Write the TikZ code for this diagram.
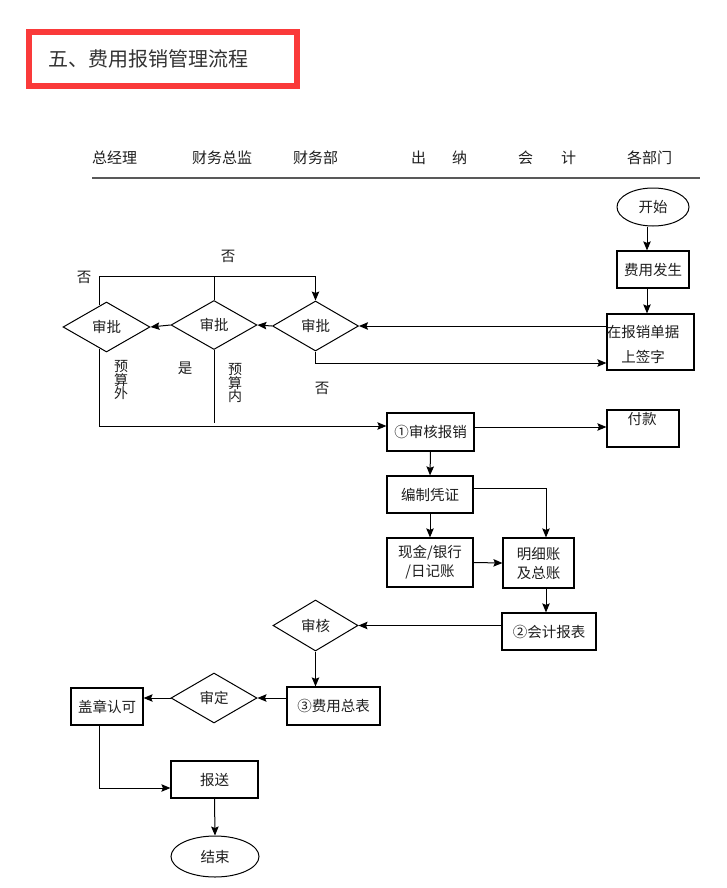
\documentclass[tikz,border=0pt]{standalone}
\usepackage{fontspec}
\setmainfont{Noto Sans CJK SC}
\usetikzlibrary{shapes.geometric,arrows.meta,calc}
\definecolor{redbox}{RGB}{250,58,58}
\definecolor{txt}{RGB}{30,30,30}
\begin{document}
\begin{tikzpicture}[x=1pt,y=-1pt,
  every node/.style={inner sep=0pt,text=txt},
  box/.style={draw,line width=1.2pt,rectangle,font=\fontsize{14.5}{17}\selectfont},
  dia/.style={draw,line width=1pt,diamond,font=\fontsize{14.5}{17}\selectfont},
  oval/.style={draw,line width=1pt,ellipse,font=\fontsize{14.5}{17}\selectfont},
  lbl/.style={font=\fontsize{14.5}{17}\selectfont},
  hdr/.style={font=\fontsize{15}{18}\selectfont,anchor=west},
  conn/.style={line width=1pt},
  arr/.style={line width=1pt,-{Stealth[length=9pt,width=7.5pt,inset=1.5pt]}}]
\useasboundingbox[fill=white] (0,0) rectangle (726,888);
% title
\node[draw=redbox,line width=5.5pt,minimum width=268pt,minimum height=54pt] (tbox) at (163,59) {};
\node[anchor=west,font=\fontsize{20}{24}\selectfont,text=black!80] (title) at (48,59) {五、费用报销管理流程};
% header
\node[hdr] (h1) at (92,158) {总经理};
\node[hdr] (h2) at (192,158) {财务总监};
\node[hdr] (h3) at (293,158) {财务部};
\node[hdr] (h4) at (411,158) {出};
\node[hdr] (h5) at (452,158) {纳};
\node[hdr] (h6) at (518,158) {会};
\node[hdr] (h7) at (561,158) {计};
\node[hdr] (h8) at (627,158) {各部门};
\coordinate (hl1) at (92,178);
\coordinate (hl2) at (700,178);
\draw[line width=2pt,black!65] (hl1) -- (hl2);
% nodes
\node[oval,minimum width=72pt,minimum height=38pt] (start) at (653,207) {开始};
\node[box,minimum width=72pt,minimum height=37pt] (fy) at (653,269.5) {费用发生};
\node[box,minimum width=87pt,minimum height=56pt] (qz) at (650.5,342) {};
\node[lbl,align=center,font=\fontsize{14.5}{25}\selectfont] (qzt) at (643,344.5) {在报销单据\\上签字};
\node[dia,minimum width=86pt,minimum height=50pt] (d3) at (315.5,326) {审批};
\node[dia,minimum width=86pt,minimum height=49pt] (d2) at (214,325) {审批};
\node[dia,minimum width=87pt,minimum height=50pt] (d1) at (106.5,327) {审批};
\node[box,minimum width=87pt,minimum height=38pt] (sh) at (430.5,432) {①审核报销};
\node[box,minimum width=72pt,minimum height=37pt] (fk) at (643,428.5) {};
\node[lbl] (fkt) at (642,419) {付款};
\node[box,minimum width=86pt,minimum height=37pt] (bz) at (430,494.5) {编制凭证};
\node[box,minimum width=86pt,minimum height=49pt,align=center,font=\fontsize{14.5}{19}\selectfont] (xj) at (430,562.5) {现金/银行\\/日记账};
\node[box,minimum width=71pt,minimum height=50pt,align=center,font=\fontsize{14.5}{19}\selectfont] (mx) at (538.5,563) {明细账\\及总账};
\node[box,minimum width=94pt,minimum height=37pt] (kj) at (549,631.5) {②会计报表};
\node[dia,minimum width=85pt,minimum height=51pt] (sh2) at (315.5,625.5) {审核};
\node[box,minimum width=93pt,minimum height=38pt] (zb) at (333.5,706) {③费用总表};
\node[dia,minimum width=86pt,minimum height=50pt] (sd) at (214,698) {审定};
\node[box,minimum width=72pt,minimum height=37pt] (gz) at (107,706.5) {盖章认可};
\node[box,minimum width=87pt,minimum height=37pt] (bs) at (214.5,779.5) {报送};
\node[oval,minimum width=88pt,minimum height=41pt] (end) at (215,856.5) {结束};
% labels
\node[lbl] (no1) at (228,256) {否};
\node[lbl] (no2) at (84,277) {否};
\node[lbl] (no3) at (322,388) {否};
\node[lbl] (yes) at (185,368) {是};
\node[lbl,align=center,font=\fontsize{14}{12}\selectfont] (ysw) at (121,380) {预\\算\\外};
\node[lbl,align=center,font=\fontsize{14}{13.5}\selectfont] (ysn) at (235,383) {预\\算\\内};
% helper coordinates
\coordinate (topy) at (0,276);
\coordinate (c1t) at (99,305);
\coordinate (c1b) at (99,349);
\coordinate (c2e) at (214,423);
\coordinate (a0) at ($(start.south)+(-6,0)$);
\coordinate (a1) at ($(fy.south)+(-6,0)$);
\coordinate (a2) at ($(sh.east)+(0,-5)$);
\coordinate (a3) at ($(mx.south)+(7.5,0)$);
\coordinate (a4) at ($(mx.north)+(7.5,0)$);
\coordinate (a5) at ($(bz.east)+(0,-6.5)$);
\coordinate (shin) at ($(sh.west)+(0,-6)$);
\coordinate (qzin) at ($(qz.west)+(0,21)$);
\coordinate (gzo) at ($(gz.south)+(-8,0)$);
\coordinate (bsin) at ($(bs.west)+(0,8.5)$);
% connectors
\draw[arr] (a0) -- (a0 |- fy.north);
\draw[arr] (a1) -- (a1 |- qz.north);
\draw[arr] (d3.east -| qz.west) -- (d3.east);
\draw[arr] (d3.south) |- (qzin);
\draw[arr] (d3.west) -- (d2.east);
\draw[arr] (d2.west) -- (d1.east);
\draw[arr] (c1t) |- (d3.north |- topy) -- (d3.north);
\draw[conn] (d2.north) -- (d2.north |- topy);
\draw[arr] (c1b) |- (shin);
\draw[conn] (d2.south) -- (c2e);
\draw[arr] (a2) -- (a2 -| fk.west);
\draw[arr] (sh.south) -- (bz.north);
\draw[arr] (a5) -| (a4);
\draw[arr] (bz.south) -- (xj.north);
\draw[arr] (xj.east) -- (mx.west);
\draw[arr] (a3) -- (a3 |- kj.north);
\draw[arr] (sh2.east -| kj.west) -- (sh2.east);
\draw[arr] (sh2.south) -- (sh2.south |- zb.north);
\draw[arr] (sd.east -| zb.west) -- (sd.east);
\draw[arr] (sd.west) -- (sd.west -| gz.east);
\draw[arr] (gzo) |- (bsin);
\draw[arr] (bs.south) -- (end.north);
\end{tikzpicture}
\end{document}
